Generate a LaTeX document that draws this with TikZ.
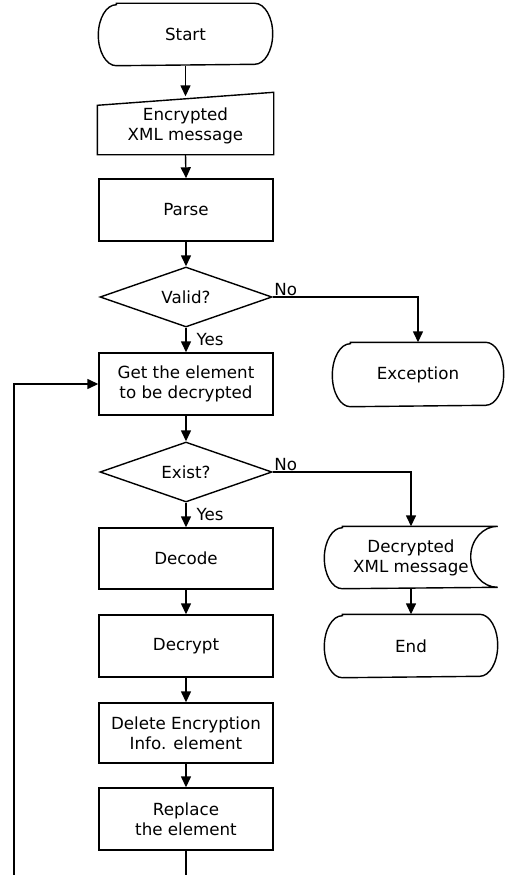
\documentclass[tikz,border=0pt]{standalone}
\usepackage{fontspec}
\setmainfont{DejaVu Sans}
\usetikzlibrary{arrows.meta,shapes.geometric}
\begin{document}
\begin{tikzpicture}[x=1pt,y=-1pt,line width=1.4pt,
  every node/.style={font=\fontsize{16.7}{20}\selectfont,align=center,inner sep=0pt},
  procbox/.style={draw,rectangle,minimum width=174pt,minimum height=62pt},
  plainbox/.style={rectangle,minimum width=#1,minimum height=62pt},
  decbox/.style={draw,diamond,aspect=2.87,minimum width=172pt,minimum height=60pt},
  arr/.style={-{Triangle[length=11pt,width=10pt]}},
  lbl/.style={inner sep=1pt}]
\useasboundingbox (0,0) rectangle (509,875);

% main column
\node[plainbox=173pt,minimum height=61pt] (start) at (185.5,34.5) {Start};
\node[plainbox=175pt,minimum height=56pt] (enc) at (185.5,126) {Encrypted\\XML message};
\node[procbox] (parse) at (186,210) {Parse};
\node[decbox] (valid) at (186,297) {Valid?};
\node[procbox] (get) at (186,384) {Get the element\\to be decrypted};
\node[decbox] (exist) at (186,472) {Exist?};
\node[procbox,minimum height=61pt] (decode) at (186,558.5) {Decode};
\node[procbox] (decrypt) at (186,646) {Decrypt};
\node[procbox,minimum height=60pt] (delete) at (186,733) {Delete Encryption\\Info. element};
\node[procbox] (replace) at (186,819) {Replace\\the element};

% right column
\node[plainbox=170pt,minimum height=63pt] (exc) at (418,374.5) {Exception};
\node[plainbox=172pt,minimum height=61pt] (decd) at (411,557.5) {Decrypted\\XML message};
\node[plainbox=172pt] (end) at (411,646) {End};

% terminal shapes
\foreach \n/\rx/\ry in {start/18/30.5,exc/18/31.5,end/18/31}{
  \draw ([xshift=\rx pt]\n.north west) -- ([xshift=-\rx pt]\n.north east)
    arc[start angle=90,end angle=-90,x radius=\rx pt,y radius=\ry pt]
    -- ([xshift=\rx pt]\n.south west)
    arc[start angle=270,end angle=90,x radius=\rx pt,y radius=\ry pt] -- cycle;
}
% manual input shape
\draw (enc.south west) -- ([yshift=-8pt]enc.north west) -- ([yshift=5pt]enc.north east)
  -- (enc.south east) -- cycle;
% stored data shape
\draw ([xshift=18pt]decd.north west) -- (decd.north east)
  arc[start angle=90,end angle=270,x radius=27pt,y radius=30.5pt]
  -- ([xshift=18pt]decd.south west)
  arc[start angle=270,end angle=90,x radius=18pt,y radius=30.5pt] -- cycle;

% connectors
\draw[arr] (start.south) -- ([yshift=1pt]enc.north);
\draw[arr] (enc.south) -- (parse.north);
\draw[arr] (parse.south) -- (valid.north);
\draw[arr] (valid.south) -- node[right,xshift=9pt,lbl]{Yes} (get.north);
\draw[arr] (valid.east) node[anchor=south west,lbl]{No} -| (exc.north);
\draw[arr] (get.south) -- (exist.north);
\draw[arr] (exist.south) -- node[right,xshift=9pt,lbl]{Yes} (decode.north);
\draw[arr] (exist.east) node[anchor=south west,lbl]{No} -| (decd.north);
\draw[arr] (decd.south) -- (end.north);
\draw[arr] (decode.south) -- (decrypt.north);
\draw[arr] (decrypt.south) -- (delete.north);
\draw[arr] (delete.south) -- (replace.north);
\coordinate (loopa) at (186,890);
\coordinate (loopb) at (14,890);
\draw[arr] (replace.south) -- (loopa) -- (loopb) |- (get.west);
\end{tikzpicture}
\end{document}
